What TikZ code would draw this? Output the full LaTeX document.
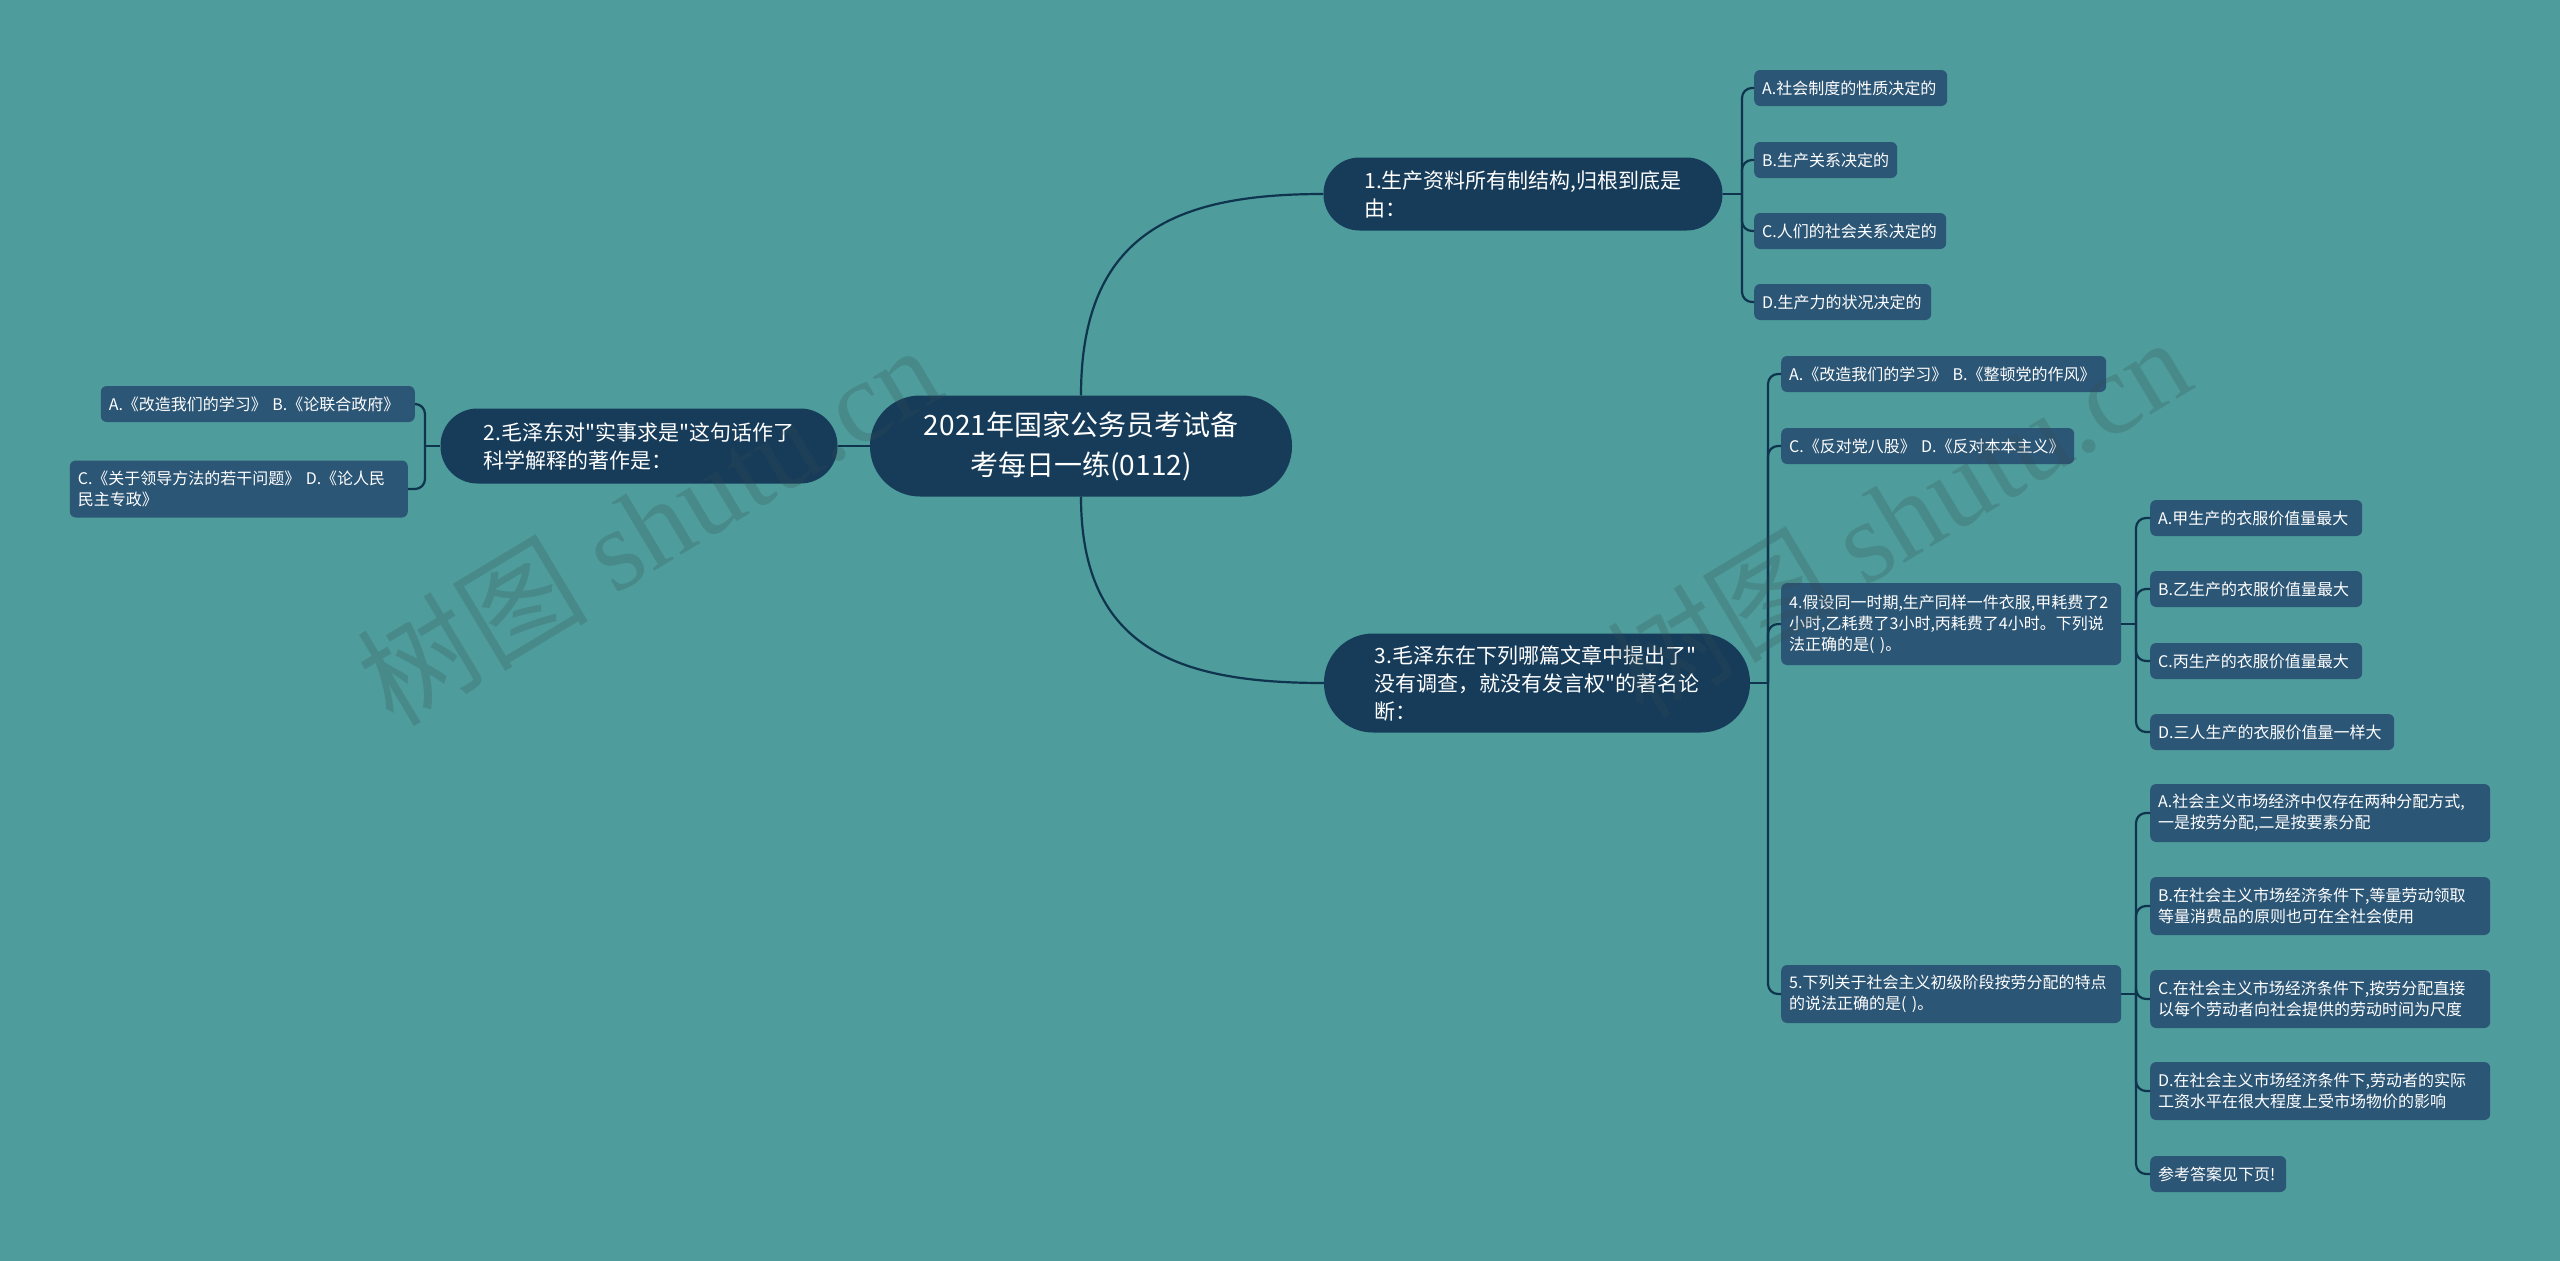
\documentclass[tikz,border=0pt]{standalone}
\usepackage{fontspec}
\setmainfont{Noto Sans CJK SC}
\newfontfamily\wmfont{Liberation Serif}
\newcommand\dq{\XeTeXglyph\XeTeXcharglyph34\relax}
\definecolor{bgc}{RGB}{78,156,156}
\definecolor{pillc}{RGB}{22,60,90}
\definecolor{leafc}{RGB}{44,86,118}
\definecolor{linec}{RGB}{15,52,78}
\definecolor{wmc}{RGB}{55,75,78}
\begin{document}
\begin{tikzpicture}[x=1pt,y=-1pt,
  pill/.style={fill=pillc,text=white,inner xsep=10pt,inner ysep=4pt,align=left,font=\fontsize{21}{28}\selectfont},
  leaf/.style={fill=leafc,text=white,rounded corners=6pt,inner xsep=8pt,inner ysep=4pt,align=left,minimum height=36pt,font=\fontsize{16}{21}\selectfont},
  conn/.style={draw=linec,line width=2.2pt},
  spine/.style={draw=linec,line width=2.2pt,rounded corners=10pt},
  wm/.style={text=wmc,opacity=0.22,rotate=31,inner sep=0pt}]
\fill[bgc] (0,0) rectangle (2560,1261);
\useasboundingbox (0,0) rectangle (2560,1261);

% main nodes
\node[pill,minimum width=422pt,minimum height=101pt,rounded corners=50pt,align=center,font=\fontsize{28}{40}\selectfont] (root) at (1081,446) {2021年国家公务员考试备\\考每日一练(0112)};
\node[pill,minimum width=399pt,minimum height=73pt,rounded corners=36pt] (q1) at (1523,194) {1.生产资料所有制结构,归根到底是\\由：};
\node[pill,minimum width=397pt,minimum height=75pt,rounded corners=37pt] (q2) at (639,446) {2.毛泽东对\dq 实事求是\dq 这句话作了\\科学解释的著作是：};
\node[pill,minimum width=426pt,minimum height=99pt,rounded corners=49pt] (q3) at (1537,683) {3.毛泽东在下列哪篇文章中提出了\dq\\没有调查，就没有发言权\dq 的著名论\\断：};

% q1 leaves
\node[leaf,anchor=west,text width=177pt] (q1a) at (1754,88) {\mbox{A.社会制度的性质决定的}};
\node[leaf,anchor=west,text width=127pt] (q1b) at (1754,160) {\mbox{B.生产关系决定的}};
\node[leaf,anchor=west,text width=176pt] (q1c) at (1754,231) {\mbox{C.人们的社会关系决定的}};
\node[leaf,anchor=west,text width=161pt] (q1d) at (1754,302) {\mbox{D.生产力的状况决定的}};

% q2 leaves
\node[leaf,anchor=east,text width=298pt] (q2a) at (415,404) {\mbox{A.《改造我们的学习》 B.《论联合政府》}};
\node[leaf,anchor=east,text width=322pt,minimum height=57pt] (q2c) at (408,489) {\mbox{C.《关于领导方法的若干问题》 D.《论人民}\\民主专政》};

% q3 leaves
\node[leaf,anchor=west,text width=309pt] (q3a) at (1781,374) {\mbox{A.《改造我们的学习》 B.《整顿党的作风》}};
\node[leaf,anchor=west,text width=277pt] (q3b) at (1781,446) {\mbox{C.《反对党八股》 D.《反对本本主义》}};
\node[leaf,anchor=west,text width=324pt,minimum height=82pt] (q4) at (1781,624) {4.假设同一时期,生产同样一件衣服,甲耗费了2\\小时,乙耗费了3小时,丙耗费了4小时。下列说\\法正确的是( )。};
\node[leaf,anchor=west,text width=324pt,minimum height=58pt] (q5) at (1781,994) {5.下列关于社会主义初级阶段按劳分配的特点\\的说法正确的是( )。};

% q4 leaves
\node[leaf,anchor=west,text width=196pt] (q4a) at (2150,518) {\mbox{A.甲生产的衣服价值量最大}};
\node[leaf,anchor=west,text width=196pt] (q4b) at (2150,589) {\mbox{B.乙生产的衣服价值量最大}};
\node[leaf,anchor=west,text width=196pt] (q4c) at (2150,661) {\mbox{C.丙生产的衣服价值量最大}};
\node[leaf,anchor=west,text width=228pt] (q4d) at (2150,732) {\mbox{D.三人生产的衣服价值量一样大}};

% q5 leaves
\node[leaf,anchor=west,text width=324pt,minimum height=58pt] (q5a) at (2150,813) {A.社会主义市场经济中仅存在两种分配方式,\\一是按劳分配,二是按要素分配};
\node[leaf,anchor=west,text width=324pt,minimum height=58pt] (q5b) at (2150,906) {B.在社会主义市场经济条件下,等量劳动领取\\等量消费品的原则也可在全社会使用};
\node[leaf,anchor=west,text width=324pt,minimum height=58pt] (q5c) at (2150,999) {C.在社会主义市场经济条件下,按劳分配直接\\以每个劳动者向社会提供的劳动时间为尺度};
\node[leaf,anchor=west,text width=324pt,minimum height=58pt] (q5d) at (2150,1091) {D.在社会主义市场经济条件下,劳动者的实际\\工资水平在很大程度上受市场物价的影响};
\node[leaf,anchor=west,text width=120pt] (q5e) at (2150,1174) {\mbox{参考答案见下页!}};

% spine points
\coordinate (s1) at (1742,194);
\coordinate (s2) at (425,446);
\coordinate (s3) at (1768,683);
\coordinate (s4) at (2136,624);
\coordinate (s5) at (2136,994);

% root connectors
\draw[conn] (root.north) .. controls (1081,230) and (1180,194) .. (q1.west);
\draw[conn] (root.south) .. controls (1081,650) and (1180,683) .. (q3.west);
\draw[conn] (root.west) -- (q2.east);

% branch connectors
\draw[conn] (q1.east) -- (s1);
\foreach \c in {q1a,q1b,q1c,q1d} \draw[spine] (s1) |- (\c.west);
\draw[conn] (q2.west) -- (s2);
\foreach \c in {q2a,q2c} \draw[spine] (s2) |- (\c.east);
\draw[conn] (q3.east) -- (s3);
\foreach \c in {q3a,q3b,q4,q5} \draw[spine] (s3) |- (\c.west);
\draw[conn] (q4.east) -- (s4);
\foreach \c in {q4a,q4b,q4c,q4d} \draw[spine] (s4) |- (\c.west);
\draw[conn] (q5.east) -- (s5);
\foreach \c in {q5a,q5b,q5c,q5d,q5e} \draw[spine] (s5) |- (\c.west);

% watermarks (drawn faintly on top)
\node[wm] (wm1) at (648,524) {\fontsize{116}{116}\selectfont 树图 {\wmfont shutu.cn}};
\node[wm] (wm2) at (1898,516) {\fontsize{116}{116}\selectfont 树图 {\wmfont shutu.cn}};
\end{tikzpicture}
\end{document}
